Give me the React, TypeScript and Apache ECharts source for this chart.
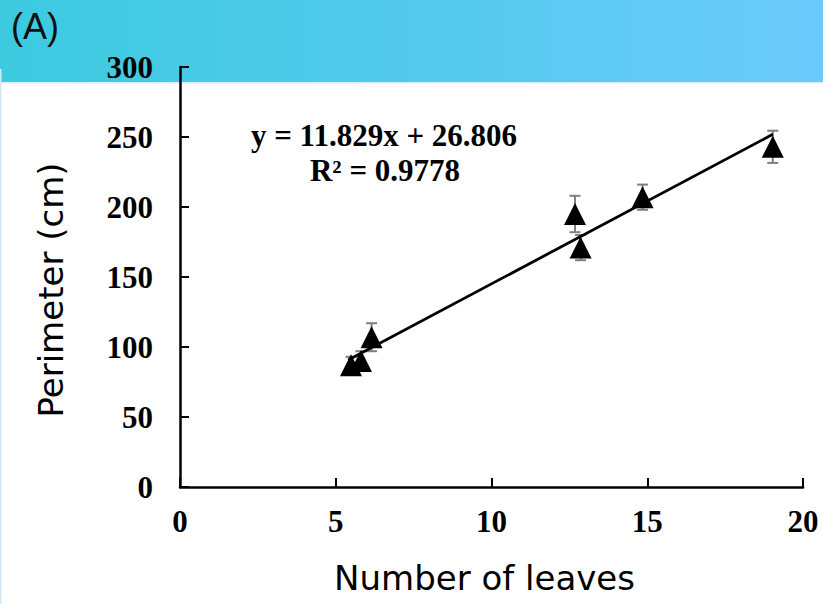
import React, { useEffect, useRef } from "react";
import * as echarts from "echarts";

const leaves = [5.49, 5.81, 6.15, 12.68, 12.86, 14.85, 19.03];
const perimeter = [87, 90, 107, 195, 171, 207, 243];
const errors = [6, 7, 10, 13, 9, 9, 11.5];
const slope = 11.829;
const intercept = 26.806;
const trendRange = [5.4, 19.03];
const eqLine1 = "y = 11.829x + 26.806";
const eqLine2 = "R² = 0.9778";
const xTicks = [0, 5, 10, 15, 20];
const yTicks = [0, 50, 100, 150, 200, 250, 300];

export default function App() {
  const ref = useRef<HTMLDivElement>(null);
  useEffect(() => {
    document.body.style.margin = "0";
    const chart = echarts.init(ref.current!, null, { renderer: "svg" });
    const serif = "'Liberation Serif', 'Times New Roman', serif";
    const sans = "'DejaVu Sans', sans-serif";
    const pts = leaves.map((x, i) => [x, perimeter[i]]);
    const errData = leaves.map((x, i) => [x, perimeter[i], errors[i]]);
    const trend = trendRange.map((x) => [x, slope * x + intercept]);
    chart.setOption({
      animation: false,
      backgroundColor: "#ffffff",
      grid: { left: 180, right: 20, top: 67, bottom: 117 },
      graphic: [
        {
          type: "rect",
          z: -10,
          silent: true,
          shape: { x: 0, y: 0, width: 823, height: 82 },
          style: {
            fill: new echarts.graphic.LinearGradient(0, 0, 1, 0, [
              { offset: 0, color: "#3ccadf" },
              { offset: 1, color: "#6bcafb" },
            ]),
          },
        },
        {
          type: "rect",
          z: -10,
          silent: true,
          shape: { x: 0, y: 82, width: 823, height: 1.5 },
          style: { fill: "#d4f0f8" },
        },
        {
          type: "rect",
          z: -9,
          silent: true,
          shape: { x: 0, y: 69, width: 1.5, height: 535 },
          style: { fill: "#d3e7f5" },
        },
        {
          type: "text",
          z: 10,
          x: 11,
          y: 26,
          style: {
            text: "(A)",
            font: "36px 'Liberation Sans', Arial, sans-serif",
            fill: "#111",
            verticalAlign: "middle",
          },
        },
        {
          type: "text",
          z: 10,
          x: 384,
          y: 135,
          style: {
            text: eqLine1,
            font: "bold 31px " + serif,
            fill: "#000",
            align: "center",
            verticalAlign: "middle",
          },
        },
        {
          type: "text",
          z: 10,
          x: 385,
          y: 170,
          style: {
            text: eqLine2,
            font: "bold 31px " + serif,
            fill: "#000",
            align: "center",
            verticalAlign: "middle",
          },
        },
      ],
      xAxis: {
        type: "value",
        min: xTicks[0],
        max: xTicks[xTicks.length - 1],
        interval: 5,
        name: "Number of leaves",
        nameLocation: "middle",
        nameGap: 74,
        nameTextStyle: { fontFamily: sans, fontSize: 34, color: "#000", padding: [0, 14, 0, 0] },
        splitLine: { show: false },
        axisLine: { onZero: false, lineStyle: { color: "#000", width: 2.5 } },
        axisTick: { inside: true, length: 9, lineStyle: { color: "#000", width: 2 } },
        axisLabel: {
          margin: 19,
          fontFamily: serif,
          fontWeight: "bold",
          fontSize: 31,
          color: "#000",
        },
      },
      yAxis: {
        type: "value",
        min: yTicks[0],
        max: yTicks[yTicks.length - 1],
        interval: 50,
        name: "Perimeter (cm)",
        nameLocation: "middle",
        nameRotate: 90,
        nameGap: 112,
        nameTextStyle: { fontFamily: sans, fontSize: 34, color: "#000", padding: [0, 26, 0, 0] },
        splitLine: { show: false },
        axisLine: { show: true, onZero: false, lineStyle: { color: "#000", width: 2.5 } },
        axisTick: { show: true, inside: true, length: 9, lineStyle: { color: "#000", width: 2 } },
        axisLabel: {
          margin: 27,
          fontFamily: serif,
          fontWeight: "bold",
          fontSize: 31,
          color: "#000",
        },
      },
      series: [
        {
          type: "line",
          data: trend,
          symbol: "none",
          z: 4,
          lineStyle: { color: "#000", width: 2.8 },
        },
        {
          type: "custom",
          z: 2,
          data: errData,
          renderItem: (params: any, api: any) => {
            const x = api.value(0);
            const y = api.value(1);
            const e = api.value(2);
            const top = api.coord([x, y + e]);
            const bot = api.coord([x, y - e]);
            const hw = 5.5;
            const st = { stroke: "#7f7f7f", lineWidth: 2 };
            return {
              type: "group",
              children: [
                { type: "line", shape: { x1: top[0], y1: top[1], x2: bot[0], y2: bot[1] }, style: st },
                { type: "line", shape: { x1: top[0] - hw, y1: top[1], x2: top[0] + hw, y2: top[1] }, style: st },
                { type: "line", shape: { x1: bot[0] - hw, y1: bot[1], x2: bot[0] + hw, y2: bot[1] }, style: st },
              ],
            };
          },
        },
        {
          type: "scatter",
          z: 3,
          data: pts,
          symbol: "triangle",
          symbolSize: [22, 22],
          itemStyle: { color: "#000", opacity: 1 },
        },
      ],
    });
    return () => chart.dispose();
  }, []);
  return <div ref={ref} style={{ width: 823, height: 604 }} />;
}
